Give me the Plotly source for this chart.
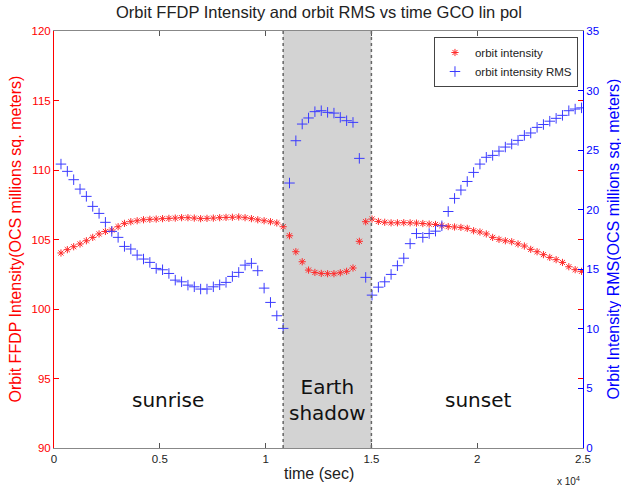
import plotly.graph_objects as go

# time (seconds)
time_sec = [330, 630, 930, 1230, 1530, 1830, 2130, 2430, 2730, 3030, 3330, 3630, 3930, 4230,
            4530, 4830, 5130, 5430, 5730, 6030, 6330, 6630, 6930, 7230, 7530, 7830, 8130, 8430,
            8730, 9030, 9330, 9630, 9930, 10230, 10530, 10830, 11130, 11430, 11730, 12030, 12330,
            12630, 12930, 13230, 13530, 13830, 14130, 14430, 14730, 15030, 15330, 15630, 15930,
            16230, 16530, 16830, 17130, 17430, 17730, 18030, 18330, 18630, 18930, 19230, 19530,
            19830, 20130, 20430, 20730, 21030, 21330, 21630, 21930, 22230, 22530, 22830, 23130,
            23430, 23730, 24030, 24330, 24630, 24930]

# orbit intensity (left axis)
orbit_intensity = [104.03, 104.27, 104.48, 104.68, 104.91, 105.15, 105.40, 105.58, 105.68, 105.92,
                   106.16, 106.28, 106.35, 106.42, 106.45, 106.47, 106.50, 106.52, 106.54, 106.57,
                   106.57, 106.54, 106.50, 106.52, 106.54, 106.57, 106.59, 106.60, 106.62, 106.57,
                   106.50, 106.42, 106.35, 106.28, 106.19, 105.92,
                   105.27, 104.12, 103.40, 102.80, 102.63, 102.56, 102.54, 102.54, 102.61, 102.71,
                   102.95, 104.87, 106.28, 106.47,
                   106.30, 106.24, 106.20, 106.20, 106.21, 106.20, 106.18, 106.15, 106.11, 106.08,
                   106.00, 105.93, 105.90, 105.87, 105.80, 105.63, 105.54, 105.40, 105.15, 105.01,
                   104.91, 104.84, 104.68, 104.53, 104.29, 104.12, 103.91, 103.71, 103.55, 103.35,
                   103.04, 102.83, 102.71]

# orbit intensity RMS (right axis)
orbit_rms = [23.83, 23.22, 22.52, 21.73, 21.12, 20.28, 19.69, 18.94, 18.18, 17.68,
             16.92, 16.70, 16.19, 15.86, 15.58, 15.07, 14.96, 14.65, 14.09, 13.95,
             13.67, 13.53, 13.34, 13.34, 13.53, 13.70, 13.90, 14.40, 14.74, 15.35,
             15.50, 14.88, 13.42, 12.22, 11.10, 10.04,
             22.24, 25.79, 27.19, 27.70, 28.23, 28.31, 28.17, 28.11, 27.75, 27.47,
             27.33, 24.31, 14.32, 12.83,
             13.50, 13.95, 14.57, 15.30, 15.93, 17.15, 18.00, 17.68, 18.00, 18.20,
             18.65, 19.85, 20.95, 21.65, 22.37, 23.13, 23.83, 24.40, 24.56, 24.92,
             25.26, 25.51, 25.82, 26.24, 26.44, 26.91, 27.15, 27.43, 27.67, 27.92,
             28.31, 28.45, 28.55]

shadow_start = 10830
shadow_end = 15000

x_tickvals = [0, 5000, 10000, 15000, 20000, 25000]
x_ticktext = ["0", "0.5", "1", "1.5", "2", "2.5"]

RED = "#ff0000"
BLUE = "#0000ff"
FONT = "Liberation Sans, Arial, sans-serif"

fig = go.Figure()

fig.add_trace(go.Scatter(
    x=time_sec, y=orbit_intensity, mode="markers", name="orbit intensity",
    marker=dict(symbol="asterisk-open", size=6, color="#ff2a2a",
                line=dict(color="#ff2a2a", width=1)),
    yaxis="y"))

fig.add_trace(go.Scatter(
    x=time_sec, y=orbit_rms, mode="markers", name="orbit intensity RMS",
    marker=dict(symbol="cross-thin-open", size=7.5, color="#3a3aff",
                line=dict(color="#3a3aff", width=1)),
    yaxis="y2"))

# Earth shadow band
fig.add_shape(type="rect", xref="x", yref="paper", x0=shadow_start, x1=shadow_end,
              y0=0, y1=1, fillcolor="#d3d3d3", line=dict(width=0), layer="below")
for xv in (shadow_start, shadow_end):
    fig.add_shape(type="line", xref="x", yref="paper", x0=xv, x1=xv, y0=0, y1=1,
                  line=dict(color="#666666", width=1.5, dash="dot"), layer="above")

annotations = [
    dict(text="Orbit FFDP Intensity and orbit RMS vs time GCO lin pol", xref="paper", yref="paper",
         x=0.5, y=1.0, yshift=19, xanchor="center", yanchor="middle", showarrow=False,
         font=dict(family=FONT, size=16.5, color="#222")),
    dict(text="Orbit FFDP Intensity(OCS millions sq. meters)", xref="paper", yref="paper",
         x=0, xshift=-39, y=0.5, xanchor="center", yanchor="middle", textangle=-90,
         showarrow=False, font=dict(family=FONT, size=16, color=RED)),
    dict(text="Orbit Intensity RMS(OCS millions sq. meters)", xref="paper", yref="paper",
         x=1, xshift=30, y=0.5, xanchor="center", yanchor="middle", textangle=-90,
         showarrow=False, font=dict(family=FONT, size=16, color=BLUE)),
    dict(text="time (sec)", xref="paper", yref="paper", x=0.5, y=0, yshift=-25,
         xanchor="center", yanchor="middle",
         showarrow=False, font=dict(family=FONT, size=16, color="#222")),
    dict(text="x 10<sup>4</sup>", xref="paper", yref="paper", x=0.973, y=0, yshift=-33,
         xanchor="center", yanchor="middle",
         showarrow=False, font=dict(family=FONT, size=10, color="#222")),
    dict(text="sunrise", xref="x", yref="paper", x=5390, y=0.115, xanchor="center",
         yanchor="middle", showarrow=False,
         font=dict(family="DejaVu Sans", size=20, color="#111")),
    dict(text="Earth<br>shadow", xref="x", yref="paper", x=12915, y=0.115, xanchor="center",
         yanchor="middle", showarrow=False,
         font=dict(family="DejaVu Sans", size=20, color="#111")),
    dict(text="sunset", xref="x", yref="paper", x=20040, y=0.115, xanchor="center",
         yanchor="middle", showarrow=False,
         font=dict(family="DejaVu Sans", size=20, color="#111")),
]

fig.update_layout(
    width=621, height=489,
    margin=dict(l=54, r=38, t=31, b=41),
    paper_bgcolor="white", plot_bgcolor="white",
    font=dict(family=FONT, size=11.5, color="#222"),
    showlegend=True,
    legend=dict(x=0.9905, y=0.9856, xanchor="right", yanchor="top",
                bgcolor="white", bordercolor="#444", borderwidth=1,
                font=dict(family=FONT, size=11.5, color="#222"),
                tracegroupgap=0, itemwidth=30),
    xaxis=dict(range=[0, 25000], tickvals=x_tickvals, ticktext=x_ticktext,
               ticks="inside", ticklen=5, tickcolor="#555", showline=True,
               linecolor="#888", linewidth=1, mirror="ticks", showgrid=False,
               zeroline=False, tickfont=dict(family=FONT, size=11.5, color="#222")),
    yaxis=dict(range=[90, 120], dtick=5, tick0=90, ticks="inside", ticklen=5,
               tickcolor=RED, showline=True, linecolor=RED, linewidth=1,
               mirror="ticks", showgrid=False, zeroline=False,
               tickfont=dict(family=FONT, size=11.5, color=RED)),
    yaxis2=dict(range=[0, 35], dtick=5, tick0=0, overlaying="y", side="right",
                ticks="inside", ticklen=5, tickcolor=BLUE, showline=True,
                linecolor=BLUE, linewidth=1, showgrid=False, zeroline=False,
                tickfont=dict(family=FONT, size=11.5, color=BLUE)),
    annotations=annotations,
)

# remove the default 8px page margin so the 621x489 figure fills the window exactly
fig.write_html("out.html",
               config={"displayModeBar": False},
               post_script="document.body.style.margin='0px';document.body.style.padding='0px';"
                           "document.body.style.overflow='hidden';")
